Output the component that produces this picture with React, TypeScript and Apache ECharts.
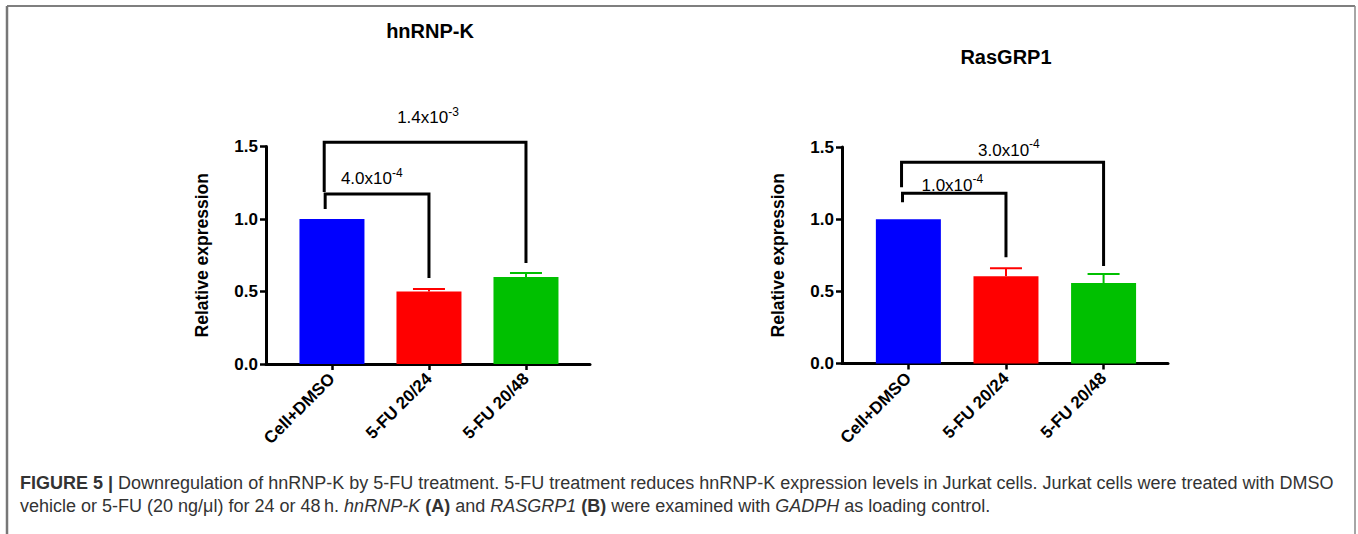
import React, { useEffect, useRef } from "react";
import * as echarts from "echarts";

const categories = ["Cell+DMSO", "5-FU 20/24", "5-FU 20/48"];
const barColors = ["#0000FF", "#FF0000", "#00C000"];
const categoryPositions = [0, 1, 2];

const hnrnpkMeans = [1.0, 0.5, 0.6];
const hnrnpkErrors = [[1, 0.5, 0.517], [2, 0.6, 0.627]];
const rasgrp1Means = [1.0, 0.605, 0.557];
const rasgrp1Errors = [[1, 0.605, 0.66], [2, 0.557, 0.62]];

// brackets: [xStart, xEnd, yTop, yLeftEnd, yRightEnd]
const hnrnpkBrackets = [
  [-0.08, 2, 1.53, 1.186, 0.697],
  [-0.07, 1, 1.172, 1.069, 0.593],
];
const hnrnpkLabelPos = [[0.99, 1.697], [0.41, 1.276]];
const hnrnpkPValues = [["1.4x10", "-3"], ["4.0x10", "-4"]];

const rasgrp1Brackets = [
  [-0.07, 2, 1.394, 1.221, 0.675],
  [-0.06, 1, 1.18, 1.117, 0.737],
];
const rasgrp1LabelPos = [[1.03, 1.478], [0.45, 1.235]];
const rasgrp1PValues = [["3.0x10", "-4"], ["1.0x10", "-4"]];

const FONT = "'Liberation Sans', Arial, sans-serif";

export default function App() {
  const ref = useRef<HTMLDivElement>(null);
  useEffect(() => {
    if (!ref.current) return;
    const chart = echarts.init(ref.current, null, { renderer: "svg" });

    const grids = [
      { left: 266, top: 146.5, width: 324, height: 217.5, outerBoundsMode: "none" },
      { left: 842, top: 147, width: 326, height: 216.5, outerBoundsMode: "none" },
    ];

    const xAxes = grids.map((_, gi) => ({
      type: "value",
      gridIndex: gi,
      min: -0.68,
      max: 2.66,
      splitLine: { show: false },
      axisLine: { show: true, onZero: false, lineStyle: { color: "#000", width: 3 } },
      axisTick: {
        show: true,
        customValues: categoryPositions,
        length: 6,
        lineStyle: { color: "#000", width: 2.5 },
      },
      axisLabel: {
        customValues: categoryPositions,
        formatter: (v: number) => categories[Math.round(v)] ?? "",
        rotate: 45,
        margin: 12,
        fontFamily: FONT,
        fontWeight: "bold",
        fontSize: 17,
        color: "#000",
      },
    }));

    const yAxes = grids.map((_, gi) => ({
      type: "value",
      gridIndex: gi,
      min: 0,
      max: 1.5,
      interval: 0.5,
      name: "Relative expression",
      nameLocation: "middle",
      nameGap: 55,
      nameRotate: 90,
      nameTextStyle: { fontFamily: FONT, fontWeight: "bold", fontSize: 17.5, color: "#000" },
      splitLine: { show: false },
      axisLine: { show: true, onZero: false, lineStyle: { color: "#000", width: 3 } },
      axisTick: { show: true, length: 6, lineStyle: { color: "#000", width: 2.5 } },
      axisLabel: {
        formatter: (v: number) => v.toFixed(1),
        margin: 8,
        fontFamily: FONT,
        fontWeight: "bold",
        fontSize: 17,
        color: "#000",
      },
    }));

    const barSeries = (means: number[], gi: number) => ({
      type: "bar",
      xAxisIndex: gi,
      yAxisIndex: gi,
      barWidth: 65,
      data: means.map((v, i) => ({
        value: [categoryPositions[i], v],
        itemStyle: { color: barColors[i] },
      })),
    });

    const errorSeries = (errs: number[][], gi: number) => ({
      type: "custom",
      xAxisIndex: gi,
      yAxisIndex: gi,
      clip: false,
      encode: { x: 0, y: [1, 2] },
      data: errs,
      renderItem: (params: any, api: any) => {
        const x = api.value(0);
        const base = api.coord([x, api.value(1)]);
        const top = api.coord([x, api.value(2)]);
        const color = barColors[Math.round(x)];
        const half = 16;
        return {
          type: "group",
          children: [
            {
              type: "line",
              shape: { x1: base[0], y1: base[1], x2: top[0], y2: top[1] },
              style: { stroke: color, lineWidth: 2 },
            },
            {
              type: "line",
              shape: { x1: top[0] - half, y1: top[1], x2: top[0] + half, y2: top[1] },
              style: { stroke: color, lineWidth: 2 },
            },
          ],
        };
      },
    });

    const bracketSeries = (brs: number[][], gi: number) => ({
      type: "custom",
      xAxisIndex: gi,
      yAxisIndex: gi,
      clip: false,
      z: 5,
      encode: { x: [0, 1], y: [2, 3, 4] },
      data: brs,
      renderItem: (params: any, api: any) => {
        const x1 = api.value(0);
        const x2 = api.value(1);
        const yt = api.value(2);
        const a = api.coord([x1, api.value(3)]);
        const b = api.coord([x1, yt]);
        const c = api.coord([x2, yt]);
        const d = api.coord([x2, api.value(4)]);
        return {
          type: "polyline",
          shape: { points: [a, b, c, d] },
          style: { stroke: "#000", lineWidth: 3, fill: "none", lineJoin: "miter" },
        };
      },
    });

    const labelSeries = (pos: number[][], texts: string[][], gi: number) => ({
      type: "custom",
      xAxisIndex: gi,
      yAxisIndex: gi,
      clip: false,
      z: 6,
      encode: { x: 0, y: 1 },
      data: pos,
      renderItem: (params: any, api: any) => {
        const p = api.coord([api.value(0), api.value(1)]);
        const t = texts[params.dataIndex];
        return {
          type: "text",
          x: p[0],
          y: p[1],
          style: {
            text: `{m|${t[0]}}{s|${t[1]}}`,
            align: "center",
            verticalAlign: "middle",
            fill: "#000",
            rich: {
              m: { fontFamily: FONT, fontSize: 17, lineHeight: 24, fill: "#000" },
              s: { fontFamily: FONT, fontSize: 12, lineHeight: 13, verticalAlign: "top", fill: "#000" },
            },
          },
        };
      },
    });

    const captionRich = {
      n: { fontFamily: FONT, fontSize: 18, fill: "#333" },
      b: { fontFamily: FONT, fontSize: 18, fontWeight: "bold", fill: "#333" },
      i: { fontFamily: FONT, fontSize: 18, fontStyle: "italic", fill: "#333" },
    };

    chart.setOption({
      animation: false,
      backgroundColor: "#fff",
      grid: grids,
      xAxis: xAxes,
      yAxis: yAxes,
      series: [
        barSeries(hnrnpkMeans, 0),
        errorSeries(hnrnpkErrors, 0),
        bracketSeries(hnrnpkBrackets, 0),
        labelSeries(hnrnpkLabelPos, hnrnpkPValues, 0),
        barSeries(rasgrp1Means, 1),
        errorSeries(rasgrp1Errors, 1),
        bracketSeries(rasgrp1Brackets, 1),
        labelSeries(rasgrp1LabelPos, rasgrp1PValues, 1),
      ],
      graphic: [
        { type: "line", shape: { x1: 7, y1: 6, x2: 1355, y2: 6 }, style: { stroke: "#555", lineWidth: 1.5 } },
        { type: "line", shape: { x1: 7, y1: 6, x2: 7, y2: 534 }, style: { stroke: "#777", lineWidth: 2.5 } },
        { type: "line", shape: { x1: 1355, y1: 6, x2: 1355, y2: 534 }, style: { stroke: "#888", lineWidth: 1.5 } },
        {
          type: "text",
          x: 430,
          y: 31,
          style: {
            text: "hnRNP-K",
            align: "center",
            verticalAlign: "middle",
            fontFamily: FONT,
            fontWeight: "bold",
            fontSize: 20,
            fill: "#000",
          },
        },
        {
          type: "text",
          x: 1006,
          y: 57,
          style: {
            text: "RasGRP1",
            align: "center",
            verticalAlign: "middle",
            fontFamily: FONT,
            fontWeight: "bold",
            fontSize: 20,
            fill: "#000",
          },
        },
        {
          type: "text",
          x: 20,
          y: 483,
          style: {
            text:
              "{b|FIGURE 5 |}{n| Downregulation of hnRNP-K by 5-FU treatment. 5-FU treatment reduces hnRNP-K expression levels in Jurkat cells. Jurkat cells were treated with DMSO}",
            verticalAlign: "middle",
            rich: captionRich,
          },
        },
        {
          type: "text",
          x: 20,
          y: 506,
          style: {
            text:
              "{n|vehicle or 5-FU (20 ng/\u03bcl) for 24 or 48\u2009h. }{i|hnRNP-K}{n| }{b|(A)}{n| and }{i|RASGRP1}{n| }{b|(B)}{n| were examined with }{i|GADPH}{n| as loading control.}",
            verticalAlign: "middle",
            rich: captionRich,
          },
        },
      ],
    });
    return () => chart.dispose();
  }, []);
  return (
    <div
      ref={ref}
      style={{ position: "absolute", left: 0, top: 0, width: 1358, height: 534, background: "#fff" }}
    />
  );
}
